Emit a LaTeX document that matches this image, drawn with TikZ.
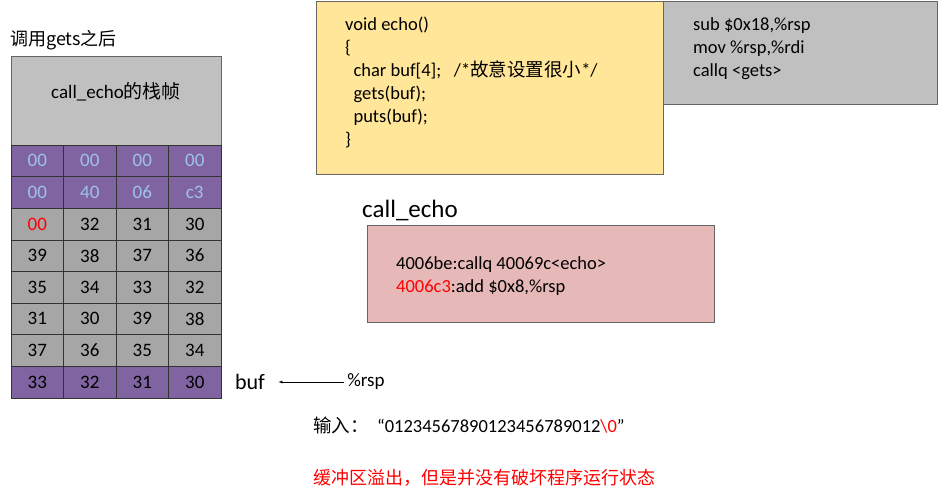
\documentclass[tikz,border=0pt]{standalone}
\usepackage{fontspec}
\setmainfont{Carlito}
\newfontfamily\cjk{Noto Sans CJK SC}
\definecolor{cellpurple}{HTML}{8064A2}
\definecolor{cellgray}{HTML}{A6A6A6}
\definecolor{headgray}{HTML}{C0C0C0}
\definecolor{lightblue}{HTML}{9DC3E6}
\definecolor{codeyellow}{HTML}{FFE699}
\definecolor{codepink}{HTML}{E6B9B8}
\definecolor{asmgray}{HTML}{C0C0C0}
\tikzset{
  cell/.style={draw=black!80, minimum width=52.5pt, minimum height=31.6pt, inner sep=0pt, font=\fontsize{19}{19}\selectfont},
  box/.style={draw=black!60, inner sep=0pt, anchor=north west},
  code/.style={anchor=north west, align=left, inner sep=0pt, font=\fontsize{18.5}{23}\selectfont}
}
\begin{document}
\begin{tikzpicture}[x=1pt,y=-1pt]
\useasboundingbox (0,0) rectangle (938,500);
\node (title) at (10,40)[right,inner sep=0pt]{\fontsize{18}{18}\selectfont\cjk 调用gets之后};
\node (head) [box, fill=headgray, minimum width=210pt, minimum height=89pt] at (11,56) {};
\node at (116,92){\fontsize{19}{19}\selectfont call\_echo\cjk 的栈帧};

\foreach \r/\fill/\txt/\row in {0/cellpurple/lightblue/{00,00,00,00},
                                1/cellpurple/lightblue/{00,40,06,c3},
                                2/cellgray/black/{\textcolor{red}{00},32,31,30},
                                3/cellgray/black/{39,38,37,36},
                                4/cellgray/black/{35,34,33,32},
                                5/cellgray/black/{31,30,39,38},
                                6/cellgray/black/{37,36,35,34},
                                7/cellpurple/black/{33,32,31,30}}
{
    \foreach \v [count=\c from 0] in \row
    {
        \node (c\r\c) [cell, fill=\fill, text=\txt] at (37.25+52.5*\c,160.8+31.6*\r) {\v};
    }
}

\node (buf) at (250,382){\fontsize{22}{22}\selectfont\rmfamily buf};
\node (rsp) at (366,382){\fontsize{19}{19}\selectfont \%rsp};
\draw[-latex] (rsp.west) -- ([xshift=10pt]buf.east);

\node (echo) [box, fill=codeyellow, minimum width=347pt, minimum height=173pt] at (316,1) {};
\node [code] at (345,17)
  {void echo()\\
   \{\\
   \ \ char buf[4];\ \ \ /*{\cjk 故意设置很小}*/\\
   \ \ gets(buf);\\
   \ \ puts(buf);\\
   \}};
\node (asm) [box, fill=asmgray, minimum width=274pt, minimum height=103pt] at (663,1) {};
\node [code] at (693,17)
  {sub \$0x18,\%rsp\\
   mov \%rsp,\%rdi\\
   callq <gets>};

\node (caller) at (362,210)[right,inner sep=0pt]{\fontsize{25}{25}\selectfont call\_echo};
\node (call) [box, fill=codepink, minimum width=347pt, minimum height=97pt] at (367,225) {};
\node [code] at (396,256)
  {4006be:callq 40069c<echo>\\
   \textcolor{red}{4006c3}:add \$0x8,\%rsp};

\node (input) at (313,425)[right,inner sep=0pt]{\fontsize{18.5}{18.5}\selectfont{\cjk 输入：}\ \ “01234567890123456789012\textcolor{red}{\textbackslash 0}”};
\node (note) at (313,478)[right,inner sep=0pt,text=red]{\fontsize{18}{18}\selectfont\cjk 缓冲区溢出，但是并没有破坏程序运行状态};
\end{tikzpicture}
\end{document}
